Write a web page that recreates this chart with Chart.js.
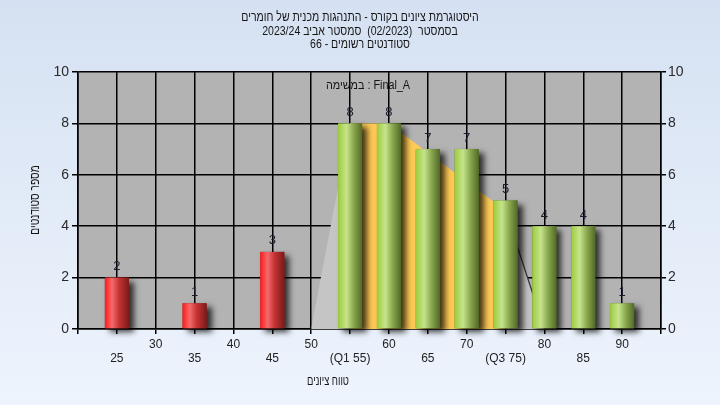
<!DOCTYPE html>
<html>
<head>
<meta charset="utf-8">
<script src="https://cdn.jsdelivr.net/npm/chart.js@4/dist/chart.umd.min.js"></script>
<style>
  html, body { margin: 0; padding: 0; background: #e4ecf8; }
  canvas { display: block; }
</style>
</head>
<body>
<canvas id="c" width="720" height="405"></canvas>
<script>
// ---- data ----
const categories = [25, 35, 45, 55, 60, 65, 70, 75, 80, 85, 90];
const counts     = [2, 1, 3, 8, 8, 7, 7, 5, 4, 4, 1];
const passMark = 50;
const tickValues = [25, 30, 35, 40, 45, 50, 55, 60, 65, 70, 75, 80, 85, 90];
const tickLabels = ['25', '30', '35', '40', '45', '50', '(Q1 55)', '60', '65', '70', '(Q3 75)', '80', '85', '90'];
const areaX = [50, 55, 60, 75, 80];
const areaY = [0, 8, 8, 4.6, 0];
const iqrX = [55, 60, 75];
const iqrY = [8, 8, 4.6];
const titleLines = [
  'היסטוגרמת ציונים בקורס - התנהגות מכנית של חומרים',
  'בסמסטר  (02/2023)  סמסטר אביב 2023/24',
  'סטודנטים רשומים - 66'
];
const legendText = 'במשימה : Final_A';
const xTitle = 'טווח ציונים';
const yTitle = 'מספר סטודנטים';

const FONT = "'Liberation Sans', Arial, sans-serif";

function fillScaled(ctx, text, x, y, sx) {
  ctx.save();
  ctx.translate(x, y);
  ctx.scale(sx, 1);
  ctx.fillText(text, 0, 0);
  ctx.restore();
}

// draws the pieces of a line from left to right, centred on cx
function drawWordsLTR(ctx, text, cx, y, sx) {
  const words = text.split(' ');
  const sp = ctx.measureText(' ').width * sx;
  const widths = words.map(w => ctx.measureText(w).width * sx);
  const total = widths.reduce((a, b) => a + b, 0) + sp * (words.length - 1);
  let x = cx - total / 2;
  ctx.textAlign = 'left';
  words.forEach((w, i) => {
    if (w) fillScaled(ctx, w, x, y, sx);
    x += widths[i] + sp;
  });
}

const bgPlugin = {
  id: 'bg',
  beforeDraw(chart) {
    const ctx = chart.ctx, a = chart.chartArea;
    const g = ctx.createLinearGradient(0, 0, 0, chart.height);
    g.addColorStop(0, '#d5e1f2');
    g.addColorStop(1, '#eef4fd');
    ctx.save();
    ctx.fillStyle = g;
    ctx.fillRect(0, 0, chart.width, chart.height);
    ctx.fillStyle = '#b3b3b3';
    ctx.fillRect(a.left, a.top, a.right - a.left, a.bottom - a.top);
    ctx.restore();
  }
};

const barPlugin = {
  id: 'cylBars',
  beforeDatasetDraw(chart, args) {
    if (args.meta.type !== 'bar') return;
    const ctx = chart.ctx;
    args.meta.data.forEach((el, i) => {
      const p = el.getProps(['x', 'y', 'base', 'width'], true);
      const left = p.x - p.width / 2, top = p.y, h = p.base - p.y;
      const fail = categories[i] < passMark;
      ctx.save();
      ctx.shadowColor = 'rgba(0,0,0,0.75)';
      ctx.shadowBlur = 6;
      ctx.shadowOffsetX = 5;
      ctx.shadowOffsetY = 4;
      ctx.fillStyle = fail ? '#8a1c1c' : '#56702a';
      ctx.fillRect(left, top, p.width, h);
      ctx.restore();
      const g = ctx.createLinearGradient(left, 0, left + p.width, 0);
      if (fail) {
        g.addColorStop(0, '#ff1a1a');
        g.addColorStop(0.3, '#f46a6a');
        g.addColorStop(0.6, '#c43232');
        g.addColorStop(1, '#7a1a1a');
      } else {
        g.addColorStop(0, '#9ccc3c');
        g.addColorStop(0.35, '#c6e48c');
        g.addColorStop(0.65, '#8aa84e');
        g.addColorStop(1, '#526a28');
      }
      ctx.save();
      ctx.fillStyle = g;
      ctx.fillRect(left, top, p.width, h);
      ctx.restore();
    });
    return false;
  },
  afterDatasetsDraw(chart) {
    const ctx = chart.ctx;
    chart.getSortedVisibleDatasetMetas().forEach(meta => {
      if (meta.type !== 'bar') return;
      meta.data.forEach((el, i) => {
        const p = el.getProps(['x', 'y'], true);
        ctx.save();
        ctx.font = '13px ' + FONT;
        ctx.fillStyle = '#1b1b2e';
        ctx.textAlign = 'center';
        ctx.textBaseline = 'middle';
        ctx.fillText(String(counts[i]), p.x, p.y - 11);
        ctx.restore();
      });
    });
  }
};

const textPlugin = {
  id: 'texts',
  afterDraw(chart) {
    const ctx = chart.ctx;
    ctx.save();
    ctx.fillStyle = '#151515';
    ctx.font = '13px ' + FONT;
    ctx.textBaseline = 'middle';
    ctx.direction = 'rtl';
    ctx.textAlign = 'center';
    const ys = [17, 31, 44];
    titleLines.forEach((t, i) => fillScaled(ctx, t, 360, ys[i], 0.81));
    fillScaled(ctx, xTitle, 328, 381, 0.72);
    ctx.save();
    ctx.translate(35, 200);
    ctx.rotate(-Math.PI / 2);
    fillScaled(ctx, yTitle, 0, 0, 0.78);
    ctx.restore();
    ctx.direction = 'ltr';
    ctx.font = '12px ' + FONT;
    drawWordsLTR(ctx, legendText, 368, 86, 0.9);
    ctx.restore();
  }
};

const xLabel = v => {
  const i = tickValues.indexOf(v);
  if (i < 0) return '';
  return (v % 10 === 0) ? [tickLabels[i], ''] : ['', tickLabels[i]];
};

new Chart(document.getElementById('c'), {
  data: {
    datasets: [
      {
        type: 'bar',
        data: categories.map((c, i) => ({ x: c, y: counts[i] })),
        backgroundColor: '#888',
        barThickness: 24,
        order: 0
      },
      {
        type: 'line',
        data: iqrX.map((x, i) => ({ x, y: iqrY[i] })),
        backgroundColor: '#ffca55',
        borderColor: 'rgba(0,0,0,0)',
        borderWidth: 0,
        fill: 'origin',
        pointRadius: 0,
        tension: 0,
        order: 1
      },
      {
        type: 'line',
        data: areaX.map((x, i) => ({ x, y: areaY[i] })),
        backgroundColor: '#c5c5c5',
        borderWidth: 1.2,
        borderColor: 'rgba(0,0,0,0)',
        segment: {
          borderColor: c => c.p0DataIndex === 3 ? '#333333' : 'rgba(0,0,0,0)'
        },
        fill: 'origin',
        pointRadius: 0,
        tension: 0,
        order: 2
      }
    ]
  },
  options: {
    responsive: false,
    animation: false,
    devicePixelRatio: 1,
    layout: { padding: { top: 72, left: 0, right: 0, bottom: 0 } },
    plugins: { legend: { display: false }, tooltip: { enabled: false }, title: { display: false } },
    scales: {
      x: {
        type: 'linear',
        min: 20, max: 95,
        offset: false,
        afterFit: s => { s.height = 76; },
        afterBuildTicks: s => { s.ticks = []; for (let v = 20; v <= 95; v += 5) s.ticks.push({ value: v }); },
        ticks: {
          autoSkip: false, maxRotation: 0, padding: 3,
          color: '#222', font: { family: FONT, size: 12 },
          callback: v => xLabel(v)
        },
        grid: { offset: false, color: '#000', lineWidth: 1.5, tickLength: 5 },
        border: { color: '#000', width: 1.5 }
      },
      y: {
        position: 'left',
        min: 0, max: 10,
        afterFit: s => { s.width = 78; },
        ticks: { stepSize: 2, padding: 3, color: '#2a2a2a', font: { family: FONT, size: 14 } },
        grid: { color: '#000', lineWidth: 1.5, tickLength: 6 },
        border: { color: '#000', width: 1.5 }
      },
      y2: {
        position: 'right',
        min: 0, max: 10,
        afterFit: s => { s.width = 59; },
        ticks: { stepSize: 2, padding: 2, color: '#2a2a2a', font: { family: FONT, size: 14 } },
        grid: { drawOnChartArea: false, color: '#000', lineWidth: 1.5, tickLength: 5 },
        border: { color: '#000', width: 1.5 }
      }
    }
  },
  plugins: [bgPlugin, barPlugin, textPlugin]
});
</script>
</body>
</html>
